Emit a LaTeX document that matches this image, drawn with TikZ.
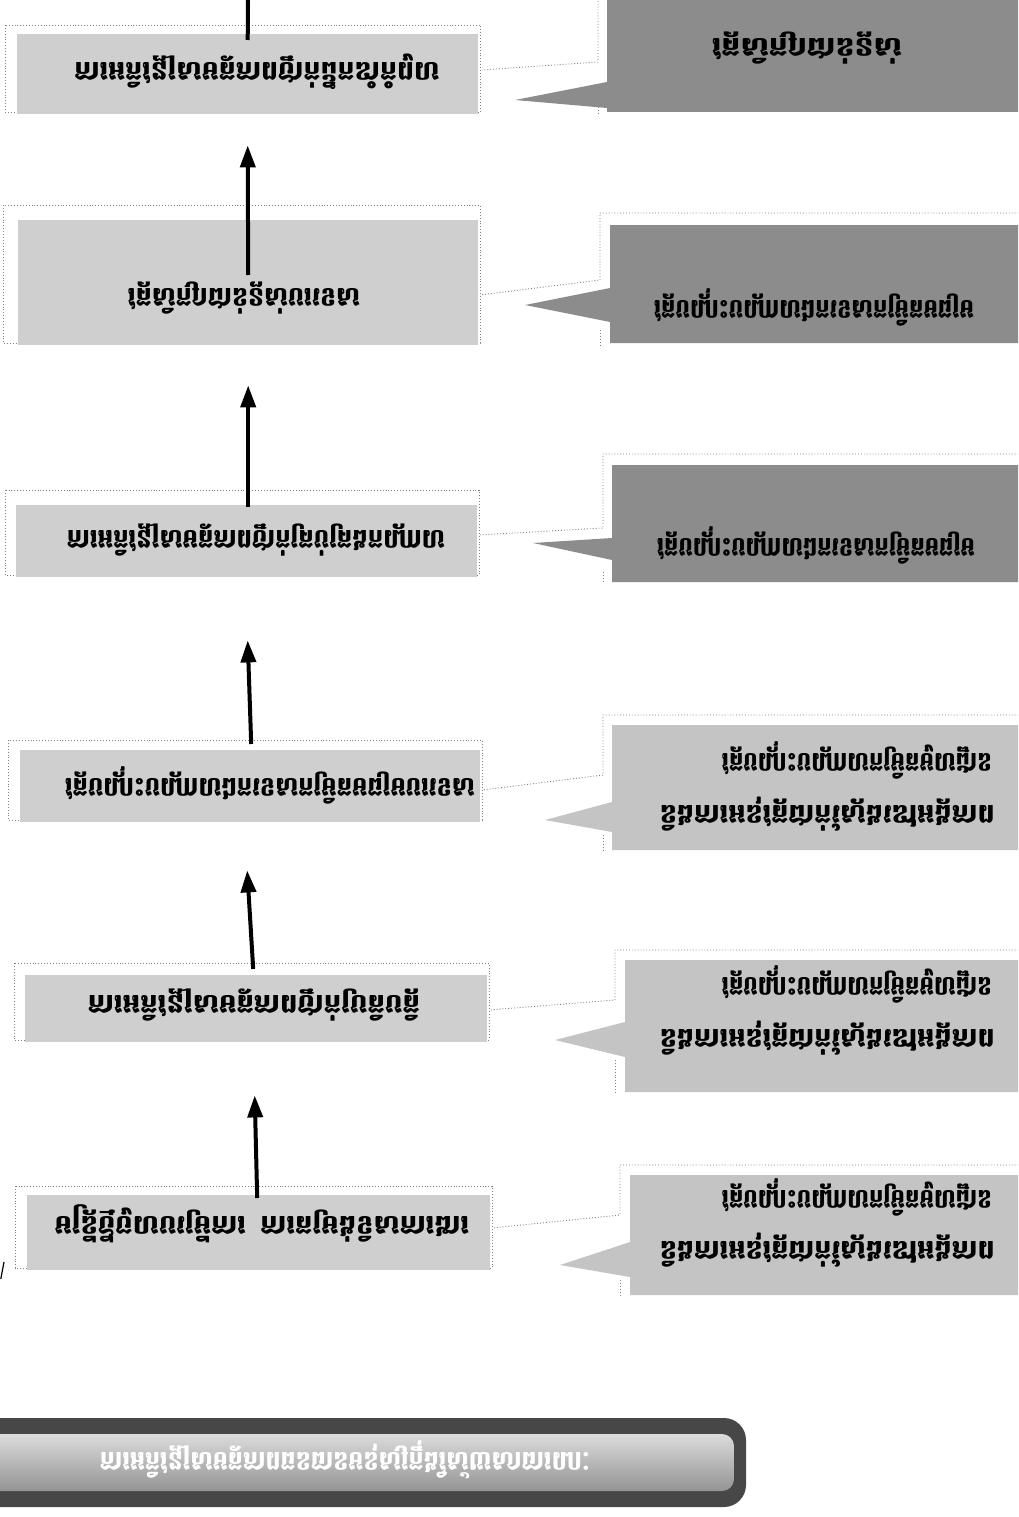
\documentclass[tikz,border=0pt]{standalone}
\usepackage{fontspec}
\usepackage{graphicx}
\newfontfamily\khf[Script=Khmer]{Battambang}
\usetikzlibrary{arrows.meta}
\newcommand\kw[2]{\resizebox{#1}{\height}{\scalebox{1}[-1]{#2}}}
\begin{document}
\begin{tikzpicture}[x=1pt,y=-1pt,
  frame/.style={draw=black!50, dotted, line width=0.9pt},
  boxfill/.style={fill=black!19, draw=none, anchor=north west, inner sep=0pt},
  darkfill/.style={fill=black!45, draw=none},
  lightcall/.style={fill=black!23, draw=none},
  ktext/.style={font=\khf\bfseries\fontsize{27}{32}\selectfont, text=black, inner sep=0pt},
  upar/.style={line width=4pt, -{Triangle[length=22pt,width=15pt]}},
  plainline/.style={line width=4pt},
]
\useasboundingbox (0,0) rectangle (1018,1517);
\clip (0,0) rectangle (1018,1517);
\fill[white] (0,0) rectangle (1018,1517);

% ---------- left boxes: dotted frames ----------
\draw[frame] (5,25) rectangle (480,112);
\draw[frame] (3,205) rectangle (480,343);
\draw[frame] (5,490) rectangle (479,575);
\draw[frame] (8,740) rectangle (482,820);
\draw[frame] (14,963) rectangle (489,1040);
\draw[frame] (15,1186) rectangle (492,1268);

% ---------- left boxes: fills ----------
\node[boxfill, minimum width=461pt, minimum height=80pt] (b1) at (17,34) {};
\node[boxfill, minimum width=460pt, minimum height=125pt] (b2) at (18,220) {};
\node[boxfill, minimum width=461pt, minimum height=72pt] (b3) at (16,505) {};
\node[boxfill, minimum width=460pt, minimum height=72pt] (b4) at (20,750) {};
\node[boxfill, minimum width=462pt, minimum height=67pt] (b5) at (25,975) {};
\node[boxfill, minimum width=463pt, minimum height=75pt] (b6) at (27,1195) {};

% ---------- left texts ----------
\node[ktext] (t1) at (257,72) {\kw{365pt}{ការអភិវឌ្ឍសមត្ថភាពថ្នាក់ដឹកនាំកំពូល}};
\node[ktext] (t2) at (244,298) {\kw{232pt}{វគ្គសិក្សាជាន់ខ្ពស់បរទេស}};
\node[ktext] (t3) at (256,540) {\kw{378pt}{ការអភិវឌ្ឍសមត្ថភាពថ្នាក់គ្រប់គ្រងកណ្តាល}};
\node[ktext] (t4) at (270,785) {\kw{410pt}{វគ្គបណ្តុះបណ្តាលឯកទេសកម្រិតមធ្យមបរទេស}};
\node[ktext] (t5) at (254,1005) {\kw{332pt}{ការអភិវឌ្ឍសមត្ថភាពថ្នាក់ប្រតិបត្តិ}};
\node[ktext] (t6) at (262,1224) {\kw{415pt}{មន្ត្រីថ្មីចូលបម្រើការ\hspace{14pt}ការតម្រង់ទិសការងារ}};

% ---------- arrows ----------
\coordinate (topend) at (248,0);
\draw[plainline] ([yshift=-6pt]b1.north) -- (topend);
\draw[upar] ([yshift=-55pt]b2.north) -- ([yshift=-31pt]b1.south);
\draw[upar] ([xshift=1.5pt,yshift=-2pt]b3.north) -- ([yshift=-40pt]b2.south);
\draw[upar] ([xshift=1pt,yshift=6pt]b4.north) -- ([xshift=1pt,yshift=-63pt]b3.south);
\draw[upar] ([xshift=-3pt,yshift=6pt]b5.north) -- ([xshift=-3pt,yshift=-48pt]b4.south);
\draw[upar] ([xshift=-1.5pt,yshift=-3pt]b6.north) -- ([xshift=-1.5pt,yshift=-53pt]b5.south);

% ---------- callout frames (dotted, offset) ----------
\draw[frame] (1030,-5) -- (598,-5) -- (598,62) -- (482,70);
\draw[frame] (598,104) -- (598,114);
\draw[frame] (1030,213) -- (600,213) -- (600,280) -- (480,295);
\draw[frame] (600,330) -- (600,345);
\draw[frame] (1030,454) -- (603,454) -- (603,528) -- (478,535);
\draw[frame] (603,572) -- (603,583);
\draw[frame] (1030,715) -- (603,715) -- (603,775) -- (482,790);
\draw[frame] (603,835) -- (603,852);
\draw[frame] (1030,950) -- (615,950) -- (615,1000) -- (489,1010);
\draw[frame] (615,1060) -- (615,1094);
\draw[frame] (1030,1165) -- (620,1165) -- (620,1215) -- (492,1228);
\draw[frame] (620,1280) -- (620,1297);

% ---------- callout fills ----------
\path[darkfill] (607,-10) -- (1030,-10) -- (1030,112) -- (607,112) -- (607,108) -- (515,100) -- (607,82) -- cycle;
\path[darkfill] (610,225) -- (1030,225) -- (1030,343) -- (610,343) -- (610,322) -- (525,305) -- (610,288) -- cycle;
\path[darkfill] (612,465) -- (1030,465) -- (1030,582) -- (612,582) -- (612,560) -- (533,543) -- (612,538) -- cycle;
\path[lightcall] (612,725) -- (1030,725) -- (1030,850) -- (612,850) -- (612,832) -- (545,820) -- (612,802) -- cycle;
\path[lightcall] (625,960) -- (1030,960) -- (1030,1092) -- (625,1092) -- (625,1057) -- (555,1040) -- (625,1022) -- cycle;
\path[lightcall] (630,1175) -- (1030,1175) -- (1030,1295) -- (630,1295) -- (630,1277) -- (560,1265) -- (630,1242) -- cycle;

% ---------- callout texts ----------
\node[ktext] (c1) at (807,48) {\kw{190pt}{វគ្គសិក្សាជាន់ខ្ពស់}};
\node[ktext] (c2) at (814,307) {\kw{320pt}{វគ្គបណ្តុះបណ្តាលឯកទេសកម្រិតមធ្យម}};
\node[ktext] (c3) at (816,545) {\kw{318pt}{វគ្គបណ្តុះបណ្តាលឯកទេសកម្រិតមធ្យម}};
\node[ktext, anchor=east] (c4a) at (992,760) {\kw{270pt}{វគ្គបណ្តុះបណ្តាលកម្រិតមូលដ្ឋាន}};
\node[ktext, anchor=east] (c4b) at (995,814) {\kw{335pt}{និងការអនុវត្តជាក់ស្តែងនៅអង្គភាព}};
\node[ktext, anchor=east] (c5a) at (992,984) {\kw{270pt}{វគ្គបណ្តុះបណ្តាលកម្រិតមូលដ្ឋាន}};
\node[ktext, anchor=east] (c5b) at (995,1038) {\kw{335pt}{និងការអនុវត្តជាក់ស្តែងនៅអង្គភាព}};
\node[ktext, anchor=east] (c6a) at (992,1197) {\kw{270pt}{វគ្គបណ្តុះបណ្តាលកម្រិតមូលដ្ឋាន}};
\node[ktext, anchor=east] (c6b) at (995,1250) {\kw{335pt}{និងការអនុវត្តជាក់ស្តែងនៅអង្គភាព}};

% ---------- stray mark ----------
\draw[line width=1.2pt] (0.8,1279) -- (4,1262);

% ---------- title bar ----------
\path[fill=black!72, rounded corners=22pt] (-40,1418) rectangle (746,1507);
\path[top color=black!14, bottom color=black!42, rounded corners=12pt] (-40,1434) rectangle (734,1491);
\node[ktext, text=white] (title) at (345,1460) {\kw{490pt}{ការអភិវឌ្ឍសមត្ថភាពធនធានមនុស្សក្នុងវិស័យសាធារណៈ}};
\end{tikzpicture}
\end{document}
